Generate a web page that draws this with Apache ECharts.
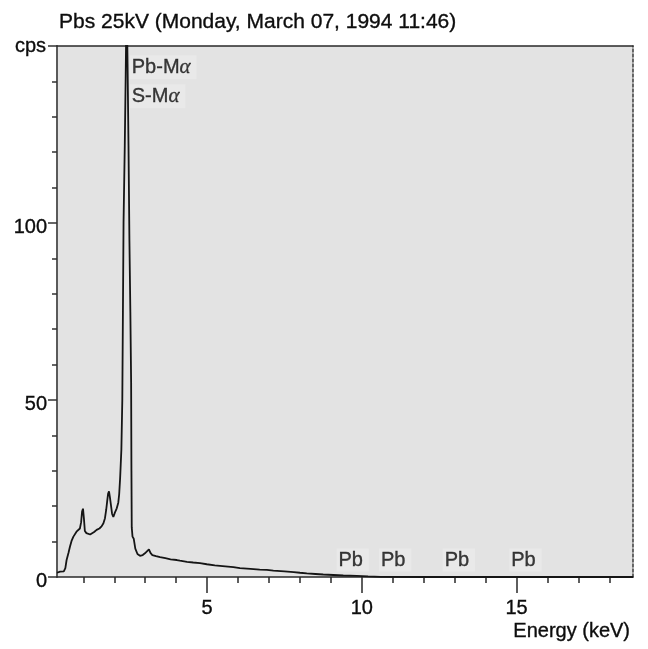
<!DOCTYPE html>
<html>
<head>
<meta charset="utf-8">
<script src="https://cdn.jsdelivr.net/npm/echarts@6/dist/echarts.min.js"></script>
<style>
  html, body { margin: 0; padding: 0; background: #ffffff; }
  #chart { width: 648px; height: 649px; }
</style>
</head>
<body>
<div id="chart"></div>
<script>
// ---- Data ----
const chartTitle = 'Pbs 25kV (Monday, March 07, 1994 11:46)';
const xAxisName = 'Energy (keV)';
const yAxisName = 'cps';

// Spectrum: energy (keV) and counts per second
const energy = [0.15, 0.25, 0.37, 0.42, 0.46, 0.52, 0.57, 0.62, 0.68, 0.78, 0.89, 0.93, 0.96, 0.99, 1.02, 1.05, 1.10,
  1.16, 1.22, 1.27, 1.35, 1.43, 1.52, 1.59, 1.65, 1.70, 1.74, 1.77, 1.80, 1.83, 1.86, 1.89, 1.93, 1.97, 2.02, 2.08,
  2.13, 2.16, 2.19, 2.21, 2.23, 2.26, 2.28, 2.30, 2.34, 2.37, 2.40, 2.43, 2.46, 2.49, 2.52, 2.545, 2.555, 2.565, 2.59,
  2.63, 2.68, 2.75, 2.83, 2.92, 2.99, 3.05, 3.12, 3.17, 3.23, 3.35, 3.48, 3.65, 3.82, 4.02, 4.12, 4.35, 4.55, 4.77,
  4.99, 5.25, 5.5, 5.85, 6.06, 6.4, 6.7, 6.93, 7.14, 7.5, 7.8, 8.0, 8.22, 8.5, 8.75, 9.08, 9.4, 9.83, 10.2, 10.6,
  12.0, 18.76];
const counts = [1.2, 1.5, 1.6, 2.5, 4.8, 6.8, 8.6, 10.2, 11.4, 12.8, 13.7, 15.5, 18.5, 19.3, 16.5, 13.0, 12.4,
  12.2, 12.0, 12.1, 12.7, 13.3, 13.7, 14.3, 15.2, 16.6, 19.0, 21.3, 23.5, 24.2, 22.5, 20.5, 17.8, 17.0, 18.2, 19.4,
  21.0, 23.5, 28, 32, 36, 50, 75, 100, 122, 142, 165, 145, 122, 95, 75, 55, 30, 14, 11.4,
  10.8, 8.0, 6.5, 6.0, 6.2, 6.7, 7.2, 7.8, 6.8, 6.2, 5.9, 5.6, 5.3, 5.0, 4.8, 4.6, 4.3, 4.1, 3.9,
  3.6, 3.3, 3.1, 2.8, 2.5, 2.3, 2.1, 2.0, 1.8, 1.6, 1.4, 1.2, 1.0, 0.85, 0.7, 0.56, 0.42, 0.3, 0.15, 0.05,
  0, 0];

// Peak annotations: text, energy (keV), height (cps)
const annotationText = ['Pb-M{a|α}', 'S-M{a|α}', 'Pb', 'Pb', 'Pb', 'Pb'];
const annotationEnergy = [2.34, 2.34, 9.18, 10.55, 12.61, 14.76];
const annotationLevel = [144.0, 135.8, 4.8, 4.8, 4.8, 4.8];

// Axis ticks and labels
const xMinorTicks = [1, 2, 3, 4, 5, 6, 7, 8, 9, 10, 11, 12, 13, 14, 15, 16, 17, 18];
const xMajorTicks = [5, 10, 15];
const xTickLabels = [5, 10, 15];
const yTickLabels = [0, 50, 100];

// ---- Chart ----
const FONT = 'Liberation Sans, Arial, Helvetica, sans-serif';
const INK = '#0d0d0d';
const textFx = { textBorderColor: INK, textBorderWidth: 0.35 };
const chart = echarts.init(document.getElementById('chart'), null, { renderer: 'canvas' });

const X_MIN = 0.15, X_MAX = 18.76, Y_MIN = 0, Y_MAX = 150;

const option = {
  animation: false,
  backgroundColor: '#ffffff',
  title: {
    text: chartTitle,
    left: 59,
    top: 12,
    padding: 0,
    textStyle: Object.assign({ fontFamily: FONT, fontSize: 21, fontWeight: 'normal', color: INK }, textFx)
  },
  grid: {
    left: 57, right: 15, top: 46, bottom: 72,
    show: true, backgroundColor: '#e3e3e3', borderWidth: 0
  },
  xAxis: [
    {
      type: 'value', position: 'bottom', min: X_MIN, max: X_MAX,
      axisLine: { show: true, onZero: false, lineStyle: { color: '#2a2a2a', width: 1.5 } },
      axisTick: { show: true, customValues: xMinorTicks, length: 6, lineStyle: { color: '#2a2a2a', width: 1.5 } },
      axisLabel: { show: false },
      splitLine: { show: false }
    },
    {
      type: 'value', position: 'bottom', min: X_MIN, max: X_MAX,
      axisLine: { show: false, onZero: false },
      axisTick: { show: true, customValues: xMajorTicks, length: 16, lineStyle: { color: '#2a2a2a', width: 1.5 } },
      axisLabel: Object.assign({ show: true, customValues: xTickLabels, fontFamily: FONT, fontSize: 20, color: INK, margin: 21 }, textFx),
      splitLine: { show: false },
      name: xAxisName,
      nameLocation: 'end',
      nameGap: 0,
      nameTextStyle: Object.assign({ fontFamily: FONT, fontSize: 20, color: INK, align: 'right', verticalAlign: 'top', padding: [44, 3, 0, 0] }, textFx)
    },
    {
      type: 'value', position: 'top', min: X_MIN, max: X_MAX,
      axisLine: { show: true, onZero: false, lineStyle: { color: '#2a2a2a', width: 1.5 } },
      axisTick: { show: false }, axisLabel: { show: false }, splitLine: { show: false }
    }
  ],
  yAxis: [
    {
      type: 'value', position: 'left', min: Y_MIN, max: Y_MAX, interval: 50,
      axisLine: { show: true, onZero: false, lineStyle: { color: '#5a5a5a', width: 2 } },
      axisTick: { show: true, length: 9, lineStyle: { color: '#333', width: 1.5 } },
      minorTick: { show: true, splitNumber: 5, length: 5, lineStyle: { color: '#333', width: 1.5 } },
      axisLabel: {
        margin: 10,
        formatter: v => (yTickLabels.indexOf(v) >= 0 ? '{v|' + v + '}' : ''),
        rich: {
          v: Object.assign({ fontFamily: FONT, fontSize: 20, color: INK, padding: [8, 0, 0, 0] }, textFx)
        }
      },
      splitLine: { show: false },
      name: yAxisName,
      nameLocation: 'end',
      nameGap: 0,
      nameTextStyle: Object.assign({ fontFamily: FONT, fontSize: 20, color: INK, align: 'right', verticalAlign: 'middle', padding: [0, 11, 3, 0] }, textFx)
    },
    {
      type: 'value', position: 'right', min: Y_MIN, max: Y_MAX,
      axisLine: { show: true, onZero: false, lineStyle: { color: '#3a3a3a', width: 1.5, type: [3, 2] } },
      axisTick: { show: false }, axisLabel: { show: false }, splitLine: { show: false }
    }
  ],
  series: [
    {
      name: 'spectrum',
      type: 'line',
      xAxisIndex: 0, yAxisIndex: 0,
      data: energy.map((e, i) => [e, counts[i]]),
      showSymbol: false,
      symbol: 'none',
      clip: true,
      lineStyle: { color: '#151515', width: 1.8 },
      z: 3
    },
    {
      name: 'annotations',
      type: 'scatter',
      xAxisIndex: 0, yAxisIndex: 0,
      symbolSize: 0,
      silent: true,
      data: annotationEnergy.map((e, i) => ({
        value: [e, annotationLevel[i]],
        text: annotationText[i],
        label: { distance: i < 2 ? 5 : 0 }
      })),
      label: Object.assign({
        show: true,
        position: 'right',
        fontFamily: FONT,
        fontSize: 20,
        color: INK,
        backgroundColor: '#eaeaea',
        padding: [2, 6, 1, 2],
        formatter: p => p.data.text,
        rich: {
          a: { fontFamily: 'Liberation Serif, DejaVu Serif, serif', fontStyle: 'italic', fontSize: 21, color: INK, textBorderColor: INK, textBorderWidth: 0.3 }
        }
      }, textFx),
      z: 4
    }
  ]
};

chart.setOption(option);
</script>
</body>
</html>
